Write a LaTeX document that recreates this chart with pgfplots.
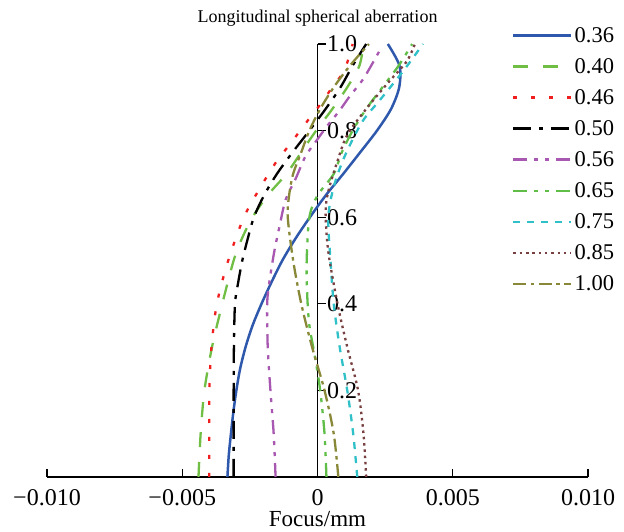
\documentclass[border=0pt]{standalone}
\usepackage{fontspec}
\setmainfont{Liberation Serif}
\usepackage{pgfplots}
\pgfplotsset{compat=1.18}
\definecolor{cblue}{RGB}{46,88,172}
\definecolor{cgreenA}{RGB}{112,190,68}
\definecolor{cred}{RGB}{240,30,30}
\definecolor{cpurple}{RGB}{168,88,176}
\definecolor{cgreenB}{RGB}{96,190,72}
\definecolor{ccyan}{RGB}{48,192,200}
\definecolor{cbrown}{RGB}{120,64,64}
\definecolor{colive}{RGB}{136,136,56}
\begin{document}
\begin{tikzpicture}[x=1pt,y=1pt]
\path[use as bounding box] (-47,-55) rectangle (577,477);
\begin{axis}[
  at={(0,0)}, anchor=south west,
  scale only axis, width=541pt, height=433pt,
  xmin=-0.01, xmax=0.01, ymin=0, ymax=1,
  axis x line=bottom, axis y line=center,
  axis line style={-, line width=1.3pt, black},
  xtick={-0.01,-0.005,0,0.005,0.01},
  xticklabels={−0.010,−0.005,0,0.005,0.010},
  ytick={0.2,0.4,0.6,0.8,1.0},
  yticklabels={0.2,0.4,0.6,0.8,1.0},
  scaled x ticks=false,
  tick align=inside, major tick length=8pt,
  tick style={line width=1.3pt, black},
  ticklabel style={font=\fontsize{24}{24}\selectfont},
  xticklabel style={anchor=base, yshift=-29pt},
  yticklabel style={anchor=west, xshift=6pt},
  xlabel={Focus/mm},
  xlabel style={font=\fontsize{23}{23}\selectfont, at={(axis description cs:0.5,0)}, anchor=base, yshift=-50pt},
  title={Longitudinal spherical aberration},
  title style={font=\fontsize{18}{18}\selectfont, at={(axis description cs:0.5,1)}, anchor=base, yshift=15pt},
  legend style={draw=none, fill=none, at={(axis description cs:0.8595,1.044)}, anchor=north west,
    font=\fontsize{22.5}{22.5}\selectfont, row sep=10.6pt, inner sep=0pt},
  legend cell align=left,
  legend image code/.code={\draw[#1] (0pt,0pt) -- (58pt,0pt);},
  every axis plot/.append style={line width=2.3pt, smooth, tension=0.5},
]
\addplot[cblue, line width=2.5pt] coordinates {
(-0.00333,0) (-0.00328,0.05) (-0.00320,0.1) (-0.00311,0.15) (-0.00300,0.2) (-0.00286,0.25) (-0.00266,0.3) (-0.00240,0.35) (-0.00207,0.4) (-0.00170,0.45) (-0.00130,0.5) (-0.00082,0.55) (-0.00028,0.6) (0.00030,0.65) (0.00095,0.7) (0.00158,0.75) (0.00220,0.8) (0.00272,0.85) (0.00302,0.9) (0.00303,0.95) (0.00260,1.0)};
\addlegendentry{0.36}
\addplot[cgreenA, dash pattern=on 15pt off 15pt] coordinates {
(-0.00440,0) (-0.00432,0.1) (-0.00418,0.2) (-0.00390,0.3) (-0.00352,0.4) (-0.00310,0.5) (-0.00280,0.55) (-0.00240,0.6) (-0.00185,0.65) (-0.00115,0.7) (-0.00060,0.75) (-0.00005,0.8) (0.00055,0.85) (0.00110,0.9) (0.00155,0.95) (0.00170,1.0)};
\addlegendentry{0.40}
\addplot[cred, dash pattern=on 4pt off 14pt] coordinates {
(-0.00400,0) (-0.00400,0.1) (-0.00400,0.2) (-0.00392,0.3) (-0.00372,0.4) (-0.00330,0.5) (-0.00272,0.6) (-0.00210,0.67) (-0.00150,0.73) (-0.00100,0.77) (-0.00040,0.82) (0.00010,0.86) (0.00060,0.905) (0.00100,0.94) (0.00130,1.0)};
\addlegendentry{0.46}
\addplot[black, dash pattern=on 18pt off 8pt on 4pt off 8pt] coordinates {
(-0.00310,0) (-0.00310,0.1) (-0.00310,0.2) (-0.00309,0.3) (-0.00305,0.4) (-0.00293,0.45) (-0.00278,0.5) (-0.00258,0.55) (-0.00235,0.6) (-0.00198,0.65) (-0.00150,0.7) (-0.00092,0.75) (-0.00030,0.8) (0.00030,0.85) (0.00085,0.9) (0.00130,0.95) (0.00180,1.0)};
\addlegendentry{0.50}
\addplot[cpurple, dash pattern=on 14pt off 7pt on 4pt off 7pt on 4pt off 7pt] coordinates {
(-0.00155,0) (-0.00162,0.1) (-0.00174,0.2) (-0.00184,0.3) (-0.00186,0.4) (-0.00178,0.45) (-0.00160,0.52) (-0.00140,0.58) (-0.00118,0.64) (-0.00080,0.69) (-0.00045,0.74) (0.00000,0.78) (0.00035,0.81) (0.00080,0.845) (0.00120,0.88) (0.00170,0.92) (0.00230,0.985)};
\addlegendentry{0.56}
\addplot[cgreenB, dash pattern=on 14pt off 7pt on 4pt off 7pt on 4pt off 7pt] coordinates {
(0.00033,0) (0.00026,0.1) (0.00010,0.2) (-0.00010,0.28) (-0.00030,0.35) (-0.00038,0.42) (-0.00040,0.5) (-0.00030,0.6) (0.00000,0.65) (0.00060,0.7) (0.00090,0.75) (0.00130,0.8) (0.00180,0.85) (0.00240,0.9) (0.00300,0.95) (0.00350,1.0)};
\addlegendentry{0.65}
\addplot[ccyan, dash pattern=on 7pt off 7pt] coordinates {
(0.00147,0) (0.00132,0.1) (0.00110,0.2) (0.00082,0.3) (0.00060,0.4) (0.00048,0.5) (0.00040,0.6) (0.00060,0.67) (0.00100,0.74) (0.00165,0.82) (0.00230,0.87) (0.00320,0.94) (0.00390,1.0)};
\addlegendentry{0.75}
\addplot[cbrown, dash pattern=on 2.5pt off 3.8pt] coordinates {
(0.00180,0) (0.00170,0.1) (0.00150,0.2) (0.00110,0.3) (0.00074,0.4) (0.00040,0.52) (0.00030,0.61) (0.00040,0.66) (0.00074,0.73) (0.00110,0.79) (0.00180,0.85) (0.00260,0.91) (0.00330,0.96) (0.00360,1.0)};
\addlegendentry{0.85}
\addplot[colive, dash pattern=on 13pt off 4.5pt on 3.5pt off 4.5pt] coordinates {
(0.00077,0) (0.00060,0.1) (0.00026,0.2) (-0.00020,0.3) (-0.00060,0.4) (-0.00090,0.5) (-0.00110,0.6) (-0.00105,0.65) (-0.00090,0.7) (-0.00060,0.75) (-0.00030,0.8) (0.00010,0.85) (0.00060,0.9) (0.00120,0.95) (0.00190,1.0)};
\addlegendentry{1.00}
\end{axis}
\end{tikzpicture}
\end{document}
